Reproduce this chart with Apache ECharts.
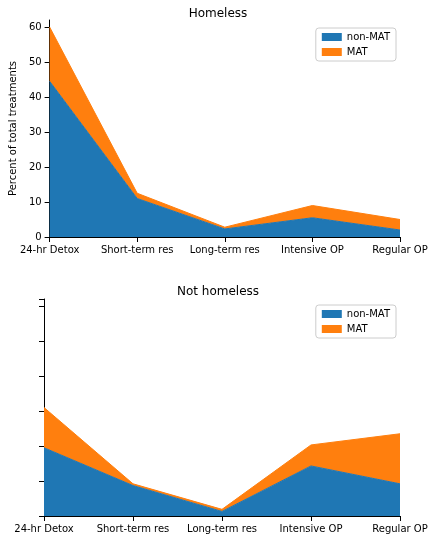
<!DOCTYPE html>
<html><head><meta charset="utf-8">
<script src="https://cdn.jsdelivr.net/npm/echarts@6/dist/echarts.min.js"></script>
<style>body{margin:0}#c{width:436px;height:555px}</style></head>
<body><div id="c"></div>
<script>
const categories = ["24-hr Detox", "Short-term res", "Long-term res", "Intensive OP", "Regular OP"];
const homelessNonMat = [44.5, 11, 2.3, 5.5, 2];
const homelessMat = [15.5, 1.5, 0.5, 3.5, 3];
const notHomelessNonMat = [19.5, 8.7, 1.3, 14.3, 9.2];
const notHomelessMat = [11.5, 0.5, 0.6, 6, 14.3];

const font = "DejaVu Sans";
const chart = echarts.init(document.getElementById("c"));
function grid(top) { return { left: 44, right: 36, top: top, height: 217 }; }
function xAx(i) {
  return { gridIndex: i, type: "category", data: categories, boundaryGap: false,
    axisLine: { lineStyle: { color: "#000" } }, axisTick: { lineStyle: { color: "#000" } },
    axisLabel: { color: "#000", fontSize: 10, fontFamily: font, interval: 0 } };
}
function yAx(i, showLabels) {
  return { gridIndex: i, type: "value", min: 0, max: 62, interval: 10,
    name: showLabels ? "Percent of total treatments" : "", nameLocation: "middle", nameGap: 26,
    nameTextStyle: { color: "#000", fontSize: 10, fontFamily: font },
    axisLine: { show: true, lineStyle: { color: "#000" } }, axisTick: { show: true, lineStyle: { color: "#000" } },
    axisLabel: { show: showLabels, color: "#000", fontSize: 10, fontFamily: font },
    splitLine: { show: false } };
}
function area(name, data, i, color) {
  return { name: name, type: "line", stack: "s" + i, xAxisIndex: i, yAxisIndex: i, data: data,
    symbol: "none", lineStyle: { color: color, width: 1 }, itemStyle: { color: color },
    areaStyle: { color: color, opacity: 1 } };
}
function legend(top) {
  return { top: top, right: 40, orient: "vertical", itemWidth: 20, itemHeight: 8, itemGap: 5,
    icon: "rect", borderColor: "#ccc", borderWidth: 1, borderRadius: 3, padding: [4, 6],
    textStyle: { fontSize: 10, fontFamily: font, color: "#000" }, data: ["non-MAT", "MAT"] };
}
chart.setOption({
  animation: false,
  title: [
    { text: "Homeless", left: "center", top: 3, textStyle: { fontSize: 12, fontWeight: "normal", fontFamily: font, color: "#000" } },
    { text: "Not homeless", left: "center", top: 281, textStyle: { fontSize: 12, fontWeight: "normal", fontFamily: font, color: "#000" } }
  ],
  legend: [legend(28), legend(305)],
  grid: [grid(20), grid(299)],
  xAxis: [xAx(0), xAx(1)],
  yAxis: [yAx(0, true), yAx(1, false)],
  series: [
    area("non-MAT", homelessNonMat, 0, "#1f77b4"),
    area("MAT", homelessMat, 0, "#ff7f0e"),
    area("non-MAT", notHomelessNonMat, 1, "#1f77b4"),
    area("MAT", notHomelessMat, 1, "#ff7f0e")
  ]
});
</script></body></html>
